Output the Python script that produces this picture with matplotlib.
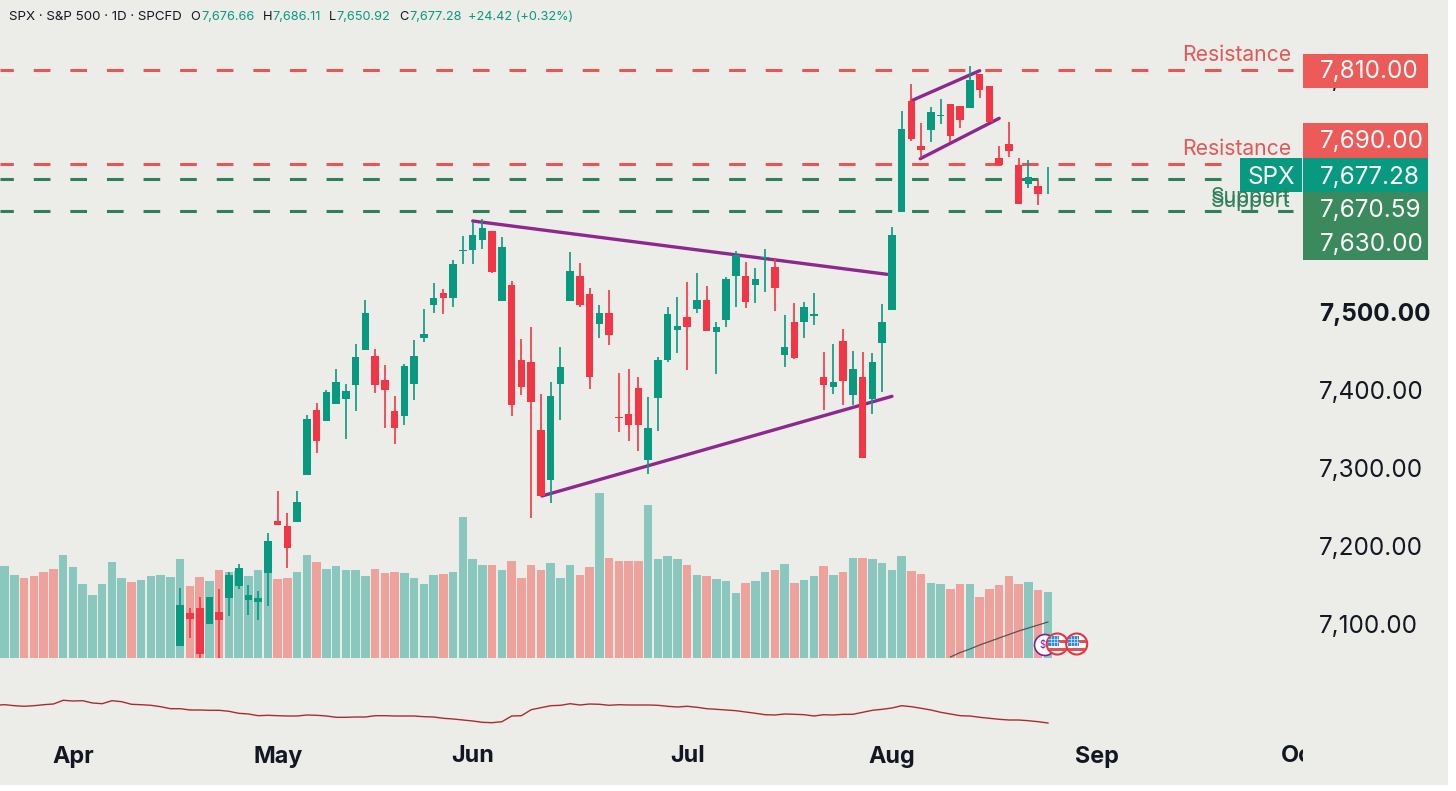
import matplotlib
matplotlib.use("Agg")
import matplotlib.pyplot as plt
import numpy as np
from matplotlib.patches import Circle, Rectangle
from matplotlib.transforms import Bbox

plt.rcParams["font.family"] = ["Inter", "DejaVu Sans"]
plt.rcParams["lines.scale_dashes"] = False

BG = "#ECECE8"
UP = "#089981"
DOWN = "#F23645"
VOL_UP = "#8AC7BF"
VOL_DOWN = "#EFA19C"
LEVEL_RED = "#E25856"
LEVEL_GREEN = "#2F7F58"
PURPLE = "#8E278E"
INK = "#131722"

# daily candles, first one is bar 18 of the volume series
first_candle = 18
opens = [7071.8, 7114.5, 7120.1, 7100, 7115.8, 7133.3, 7149.1, 7130.4, 7128.2, 7165,
         7232, 7225.6, 7231.1, 7291, 7374.4, 7360.6, 7382.4, 7388.1, 7406.4, 7451.7,
         7443.2, 7412.4, 7373.5, 7366.3, 7408.1, 7466.3, 7509, 7524, 7518.3, 7577.8,
         7579.9, 7592.7, 7603.5, 7514.5, 7535, 7438.1, 7436.3, 7348.3, 7284.6, 7407.7,
         7514.5, 7546.5, 7522.7, 7485, 7498.3, 7365.5, 7368.8, 7402.6, 7310.3, 7389.7,
         7438.5, 7476.9, 7493.2, 7504.2, 7515, 7474, 7489.7, 7545.8, 7545.8, 7534.2,
         7569.6, 7557.3, 7444.9, 7486.8, 7487.2, 7495.3, 7416.3, 7404.2, 7462.4, 7393.2,
         7416.3, 7388.1, 7459.9, 7502.6, 7628.6, 7770.9, 7712.4, 7733.3, 7751.3, 7766.3,
         7764.1, 7761.5, 7805.1, 7789.8, 7697.8, 7715.4, 7688.5, 7664.1, 7661.9, 7676.66]
highs = [7145.8, 7120.1, 7134.2, 7135, 7144.9, 7166.3, 7176.5, 7150, 7142.7, 7217,
         7270.5, 7241.9, 7270.9, 7367.9, 7382.9, 7399.6, 7426.9, 7407.7, 7458.6, 7515.4,
         7452.9, 7432, 7392.7, 7433.7, 7464.1, 7504.2, 7537.6, 7529.1, 7566.7, 7597.4,
         7615.4, 7618.8, 7603.5, 7596.5, 7540.1, 7465, 7481.2, 7394.5, 7410.6, 7454.7,
         7576.9, 7563.2, 7530.4, 7509, 7528.6, 7422.2, 7426.5, 7417, 7391.4, 7442.7,
         7506, 7519.6, 7538.8, 7549.6, 7533.7, 7486.8, 7544.9, 7578.2, 7563.7, 7556,
         7580.4, 7568.8, 7496.2, 7511.2, 7513.2, 7524, 7448.3, 7459, 7478.6, 7450.4,
         7448.7, 7447, 7510.3, 7608.6, 7757.3, 7792.7, 7741.9, 7762.4, 7772.7, 7766.3,
         7764.1, 7815.4, 7805.1, 7789.8, 7712.4, 7743.2, 7697.8, 7694.9, 7669.2, 7686.11]
lows = [7071.8, 7081.7, 7056.4, 7100, 7056, 7110.2, 7144.5, 7111.9, 7105.1, 7123.5,
        7226.9, 7171.8, 7231.1, 7291, 7319.6, 7360.6, 7382.4, 7336.8, 7373.1, 7451.7,
        7396.2, 7350.9, 7330.8, 7355.1, 7387.2, 7461.9, 7499.1, 7497.8, 7506.4, 7561.5,
        7561.2, 7581.2, 7550, 7514.5, 7367, 7393.2, 7235.5, 7264.1, 7255.5, 7361.5,
        7514.5, 7506.8, 7400.9, 7466.7, 7458.1, 7346.1, 7335, 7321.4, 7292.3, 7347,
        7435.9, 7447.8, 7425.6, 7499.1, 7476, 7420.1, 7480.4, 7506.4, 7505.1, 7511.9,
        7526, 7501.7, 7429.5, 7439.4, 7466.3, 7483.3, 7374, 7394.5, 7380.8, 7380.8,
        7312.4, 7368.8, 7397.8, 7502.6, 7628.6, 7719.2, 7697.1, 7718, 7741, 7718,
        7735.9, 7761.5, 7774.8, 7743.6, 7688.5, 7698.3, 7638.1, 7659, 7636.8, 7650.92]
closes = [7124.4, 7106, 7061.1, 7135, 7105.1, 7162.8, 7171.4, 7136.8, 7133.7, 7206.4,
          7226.9, 7197.4, 7256.8, 7363.2, 7334.6, 7397.4, 7410.6, 7398.7, 7442.3, 7499.1,
          7406, 7400, 7350.9, 7431.2, 7444, 7471.8, 7517.6, 7517.9, 7561.5, 7579.5,
          7598.3, 7608.1, 7551.3, 7583, 7381.2, 7403.5, 7384.2, 7264.1, 7392.3, 7429.5,
          7552.6, 7509.4, 7417, 7498.3, 7470.5, 7364.5, 7355.5, 7355.1, 7351.7, 7438.5,
          7497.8, 7481.7, 7480.8, 7515, 7476, 7480.4, 7541.9, 7573.5, 7513.2, 7541.9,
          7570.9, 7531.2, 7455.5, 7441, 7506.8, 7497.1, 7406, 7409.9, 7411.2, 7426.9,
          7313.2, 7435.5, 7487.6, 7598.7, 7735, 7721.8, 7707.7, 7756.4, 7753, 7725.6,
          7746.5, 7797.4, 7784.2, 7743.6, 7688.5, 7706.4, 7638.9, 7672.7, 7651.3, 7677.28]

# volume, arbitrary units, one per day
volume = [9.2, 8.3, 8.0, 8.2, 8.6, 8.9, 10.3, 9.1, 7.4, 6.3,
          7.4, 9.6, 8.0, 7.6, 7.8, 8.2, 8.3, 8.1, 9.9, 7.2,
          8.1, 7.7, 8.8, 8.6, 8.7, 8.2, 8.8, 8.8, 7.9, 8.0,
          8.6, 10.3, 9.6, 8.9, 9.2, 8.8, 8.8, 8.2, 8.9, 8.5,
          8.6, 8.5, 8.0, 7.4, 8.3, 8.4, 8.6, 14.1, 9.9, 9.3,
          9.3, 8.8, 9.7, 8.0, 9.3, 8.8, 9.5, 8.0, 9.3, 8.3,
          9.1, 16.5, 10.0, 9.7, 9.7, 9.7, 15.3, 9.9, 10.2, 9.9,
          9.3, 8.3, 8.2, 7.9, 7.7, 6.5, 7.5, 7.7, 8.6, 8.8,
          9.4, 7.5, 7.8, 8.2, 9.2, 8.3, 8.6, 10.0, 10.0, 9.9,
          9.5, 8.8, 10.2, 8.7, 8.4, 7.5, 7.4, 6.9, 7.4, 7.4,
          6.1, 6.9, 7.3, 8.2, 7.4, 7.6, 6.8, 6.6]
# up/down for the days before the first visible candle
early_up = [True, True, False, False, False, False, True, True, True, True,
            True, True, True, False, True, True, True, True]

# lower pane line, starts one bar left of the first volume bar
osc_values = [29.8, 30.3, 29.3, 28.7, 29.3, 30.3, 31, 34.7, 34, 34.3, 32,
              31.3, 34.3, 33.3, 30.7, 30.3, 29.7, 28.3, 26.3, 26.3, 25,
              25, 24.7, 24.7, 23.7, 21.7, 21, 19.3, 19.7, 19.3, 19,
              19, 20, 19.7, 19, 17.7, 17.7, 18, 18, 19.3, 19.3,
              19, 19, 19, 18.3, 18, 16.7, 16, 15, 14, 12.7,
              12.3, 13.3, 19, 19.3, 25.3, 27.3, 29.3, 29.7, 31.3, 30,
              31, 30.7, 29.7, 30.3, 30, 30, 30, 29.7, 28.7, 28,
              28.7, 27.7, 26.3, 25.7, 25, 24.3, 23, 21.7, 20.3, 20,
              21, 20.7, 20.3, 19, 20.3, 20, 20.7, 20.7, 22.7, 24.7,
              25.7, 27, 29.3, 28.3, 26.7, 25, 22.7, 21, 19.3, 19,
              17.7, 16.7, 15.7, 15, 15, 14.3, 13.3, 12]

# short rising line in the volume pane
vol_line_x = [97, 98, 99, 100, 101, 102, 103, 104, 105, 106, 107]
vol_line = [0.1, 0.55, 0.9, 1.3, 1.65, 2.0, 2.35, 2.7, 3.0, 3.3, 3.6]

# drawn levels and trend lines (bar, price)
levels_red = [7810, 7690]
levels_green = [7670.59, 7630]
trend_lines = [
    ([48, 90.5], [7616.7, 7548.3]),
    ([55.1, 91], [7264.1, 7391.9]),
    ([93, 100], [7770.9, 7809.4]),
    ([93.9, 102], [7696.5, 7748.3]),
]

price_ticks = [7100, 7200, 7300, 7400, 7500, 7600, 7700, 7800]
month_pos = [7, 28, 48, 70, 91, 112, 133]
month_names = ["Apr", "May", "Jun", "Jul", "Aug", "Sep", "Oct"]

fig = plt.figure(figsize=(14.56, 7.91), dpi=100, facecolor="white")
W, H = 1456, 791
fig.add_artist(Rectangle((0, 6 / H), 1448 / W, 785 / H, transform=fig.transFigure,
                         fc=BG, ec="none", zorder=-1))

pane_w = 1303 / W
xlim = (-0.482, 133.16)

vol_ax = fig.add_axes([0, (H - 670) / H, pane_w, 670 / H], zorder=0)
ax = fig.add_axes([0, (H - 670) / H, pane_w, 670 / H], zorder=1)
osc_ax = fig.add_axes([0, (H - 733) / H, pane_w, 63 / H], zorder=1)

# volume
n_days = len(volume)
days = np.arange(n_days)
is_up = list(early_up) + [c >= o for o, c in zip(opens, closes)]
vol_colors = [VOL_UP if u else VOL_DOWN for u in is_up]
vol_ax.set_facecolor(BG)
vol_ax.bar(days, volume, width=0.87, color=vol_colors, linewidth=0)
vol_ax.plot(vol_line_x, vol_line, color="#555555", lw=0.9)
vol_ax.set_xlim(xlim)
vol_ax.set_ylim(-1.2, 65.8)
vol_ax.axis("off")

# price
ax.patch.set_visible(False)
for level in levels_red:
    ax.plot([-0.482, 132.1], [level, level], color=LEVEL_RED, lw=2.2,
            linestyle=(2.4, (12, 14.35)), zorder=1)
for level in levels_green:
    ax.plot([-0.482, 132.1], [level, level], color=LEVEL_GREEN, lw=2.2,
            linestyle=(2.4, (12, 14.35)), zorder=1)
for xs, ys in trend_lines:
    ax.plot(xs, ys, color=PURPLE, lw=2.4, solid_capstyle="round", zorder=2)

candle_x = np.arange(first_candle, first_candle + len(opens))
candle_colors = [UP if c >= o else DOWN for o, c in zip(opens, closes)]
ax.vlines(candle_x, lows, highs, colors=candle_colors, lw=1.2, zorder=3)
body_low = np.minimum(opens, closes)
body_high = np.maximum(opens, closes)
ax.bar(candle_x, body_high - body_low, bottom=body_low, width=0.78,
       color=candle_colors, linewidth=0, zorder=4)

ax.set_xlim(xlim)
ax.set_ylim(7041.0, 7900)
ax.set_xticks([])
ax.yaxis.tick_right()
ax.set_yticks(price_ticks)
ax.set_yticklabels([f"{p:,.2f}" for p in price_ticks])
ax.tick_params(axis="y", length=0, pad=11.6, labelsize=17.5, labelcolor=INK)
for lbl, p in zip(ax.get_yticklabels(), price_ticks):
    if p == 7500:
        lbl.set_fontweight("bold")
for side in ax.spines:
    ax.spines[side].set_visible(False)

# lower pane
osc_ax.patch.set_visible(False)
osc_ax.plot(np.arange(-1, n_days), osc_values, color="#AD2A35", lw=1.0)
osc_ax.set_xlim(xlim)
osc_ax.set_ylim(2, 65)
osc_ax.set_yticks([])
osc_ax.set_xticks(month_pos)
osc_ax.set_xticklabels(month_names, fontweight="bold", fontsize=16.8)
osc_ax.tick_params(axis="x", length=0, pad=9, labelcolor=INK)
for lbl in osc_ax.get_xticklabels():
    lbl.set_clip_box(Bbox([[0, 0], [1303, 791]]))
    lbl.set_clip_on(True)
for side in osc_ax.spines:
    osc_ax.spines[side].set_visible(False)

# overlay in pixels for the price tags, header and event icons
top = fig.add_axes([0, 0, 1, 1], zorder=5)
top.set_xlim(0, W)
top.set_ylim(H, 0)
top.axis("off")

TAG_RED = "#EC5B58"
TAG_GREEN = "#3B8A5E"
tags = [
    (54, 88, 69.5, "7,810.00", TAG_RED),
    (123, 158, 138.5, "7,690.00", TAG_RED),
    (192, 226, 208, "7,670.59", TAG_GREEN),
    (226, 260, 242, "7,630.00", TAG_GREEN),
    (158, 192, 175, "7,677.28", UP),
]
for y0, y1, ty, label, color in tags:
    top.add_patch(Rectangle((1303, y0), 125, y1 - y0, fc=color, ec="none"))
    top.text(1320, ty, label, color="white", fontsize=17.5, ha="left", va="center_baseline")
top.add_patch(Rectangle((1239.5, 158), 62.5, 34, fc=UP, ec="none"))
top.text(1271.5, 175, "SPX", color="white", fontsize=17.5, ha="center", va="center_baseline")

top.text(1291, 53, "Resistance", color=LEVEL_RED, fontsize=15.2, ha="right", va="center_baseline")
top.text(1291, 147, "Resistance", color=LEVEL_RED, fontsize=15.2, ha="right", va="center_baseline")
top.text(1291, 195, "Support", color=LEVEL_GREEN, fontsize=15.2, ha="right", va="center_baseline")
top.text(1291, 199, "Support", color=LEVEL_GREEN, fontsize=15.2, ha="right", va="center_baseline")

header = [
    (9, "SPX · S&P 500 · 1D · SPCFD", INK, 9.6),
    (190, "O", INK, 9.2), (201, "7,676.66", UP, 9.2),
    (262.5, "H", INK, 9.2), (272, "7,686.11", UP, 9.2),
    (329, "L", INK, 9.2), (336, "7,650.92", UP, 9.2),
    (399, "C", INK, 9.2), (409, "7,677.28", UP, 9.2),
    (467.7, "+24.42 (+0.32%)", UP, 9.2),
]
for x, label, color, size in header:
    top.text(x, 15.5, label, color=color, fontsize=size, ha="left", va="center_baseline")

# event icons
top.add_patch(Circle((1045, 645), 10.5, fc="white", ec="#7B1FA2", lw=1.2))
top.text(1043, 645, "$", color="#7B1FA2", fontsize=7, ha="center", va="center")
for cx in (1057.3, 1076.7):
    disc = Circle((cx, 644), 10.5, fc="white", ec="#E8323C", lw=1.5, zorder=3)
    top.add_patch(disc)
    parts = [
        Rectangle((cx - 11, 640), 22, 3.2, fc="#E2504F", ec="none", zorder=3),
        Rectangle((cx - 11, 648), 22, 3.2, fc="#E2504F", ec="none", zorder=3),
        Rectangle((cx - 9, 635.5), 11, 10.5, fc="#2D8BE0", ec="none", zorder=4),
    ]
    for part in parts:
        top.add_patch(part)
        part.set_clip_path(Circle((cx, 644), 9.8, transform=top.transData))
    for gx in (cx - 6, cx - 3, cx):
        top.plot([gx, gx], [636, 646], color="white", lw=0.4, zorder=5)
    for gy in (639, 642):
        top.plot([cx - 9, cx + 2], [gy, gy], color="white", lw=0.4, zorder=5)

fig.savefig("out.png", dpi=100)
